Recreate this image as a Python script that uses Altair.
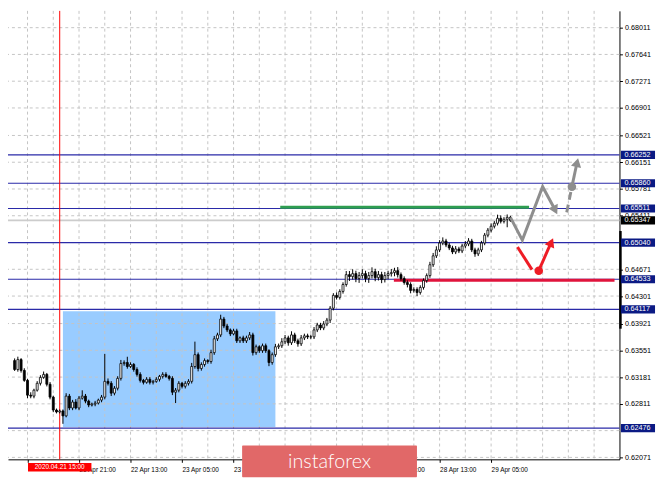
import altair as alt
import pandas as pd

# ---------------- data ----------------
START_HOUR = -4            # bar index in trading hours since 21 Apr 05:00
FIRST_OPEN = 0.63409
CLOSES = [
    0.63286, 0.63423, 0.63273, 0.63136,
    0.62931, 0.62918, 0.63000, 0.63095, 0.63177, 0.63218, 0.63082, 0.62904, 0.62726, 0.62699,
    0.62713, 0.62645, 0.62918, 0.62754, 0.62836, 0.62754, 0.62890, 0.62918, 0.62849, 0.62795,
    0.62808, 0.62822, 0.62863, 0.62904, 0.63122, 0.63095, 0.62959, 0.63027, 0.63163, 0.63368,
    0.63382, 0.63327, 0.63355, 0.63286, 0.63218, 0.63136, 0.63109, 0.63150, 0.63109, 0.63122,
    0.63150, 0.63191, 0.63218, 0.63191, 0.63163, 0.62972, 0.63000, 0.63095, 0.63054, 0.63095,
    0.63122, 0.63327, 0.63491, 0.63300, 0.63355, 0.63409, 0.63396, 0.63519, 0.63710, 0.63764,
    0.63983, 0.63887, 0.63833, 0.63778, 0.63819, 0.63682, 0.63723, 0.63682, 0.63723, 0.63764,
    0.63519, 0.63600, 0.63546, 0.63614, 0.63546, 0.63382, 0.63491, 0.63600, 0.63614, 0.63669,
    0.63723, 0.63655, 0.63764, 0.63682, 0.63641, 0.63723, 0.63751, 0.63737, 0.63737, 0.63833,
    0.63901, 0.63860, 0.63915, 0.63969, 0.64133, 0.64311, 0.64283, 0.64365, 0.64461, 0.64597,
    0.64570, 0.64611, 0.64543, 0.64584, 0.64611, 0.64543, 0.64584, 0.64638, 0.64556, 0.64597,
    0.64529, 0.64584, 0.64611, 0.64625, 0.64652, 0.64597, 0.64543, 0.64488, 0.64461, 0.64379,
    0.64392, 0.64351, 0.64420, 0.64515, 0.64584, 0.64734, 0.64857, 0.64939, 0.65034, 0.65062,
    0.65007, 0.64966, 0.64911, 0.64952, 0.64925, 0.64993, 0.65021, 0.65062, 0.64939, 0.64884,
    0.64939, 0.65034, 0.65143, 0.65212, 0.65266, 0.65307, 0.65376, 0.65335, 0.65362, 0.65389,
    0.65348,
]
UPPER_WICK_PIPS = [
    3, 4, 2, 3,
    2, 4, 2, 3, 3, 4, 2, 3, 2, 2,
    2, 2, 4, 3, 3, 4, 3, 8, 3, 2,
    2, 3, 2, 3, 38, 4, 3, 3, 3, 5,
    3, 8, 3, 2, 3, 3, 2, 3, 3, 2,
    3, 2, 3, 3, 2, 3, 3, 3, 2, 3,
    3, 5, 18, 3, 3, 3, 2, 4, 4, 3,
    6, 3, 3, 2, 3, 3, 2, 3, 3, 4,
    3, 3, 2, 3, 3, 2, 3, 4, 3, 5,
    4, 3, 5, 3, 3, 4, 3, 3, 3, 4,
    3, 3, 4, 3, 3, 3, 4, 3, 3, 5,
    5, 6, 4, 5, 6, 4, 5, 6, 4, 5,
    4, 5, 4, 5, 4, 5, 3, 3, 3, 3,
    3, 3, 3, 3, 3, 4, 4, 5, 4, 5,
    3, 3, 3, 4, 3, 3, 4, 4, 3, 3,
    3, 3, 3, 3, 4, 3, 5, 4, 3, 4,
    2,
]
LOWER_WICK_PIPS = [
    2, 3, 3, 2,
    4, 3, 3, 2, 3, 2, 3, 3, 3, 2,
    2, 11, 2, 3, 3, 2, 3, 2, 3, 3,
    2, 3, 2, 3, 3, 3, 4, 3, 3, 3,
    3, 3, 2, 3, 3, 3, 3, 2, 3, 3,
    2, 3, 3, 2, 3, 4, 15, 3, 3, 3,
    3, 3, 3, 4, 3, 3, 3, 3, 3, 3,
    3, 3, 3, 3, 2, 3, 3, 3, 3, 3,
    4, 3, 3, 3, 3, 5, 3, 3, 3, 3,
    3, 4, 3, 3, 4, 3, 3, 3, 3, 3,
    3, 3, 3, 3, 4, 3, 3, 3, 3, 3,
    6, 4, 5, 6, 4, 5, 6, 4, 5, 4,
    5, 4, 5, 4, 5, 4, 3, 3, 4, 4,
    3, 5, 3, 3, 3, 3, 3, 3, 3, 3,
    3, 3, 3, 3, 3, 3, 3, 3, 3, 4,
    3, 3, 3, 3, 3, 3, 3, 3, 3, 11,
    2,
]
PIP = 0.0001

# horizontal grid lines sit at every price-scale step
Y_GRID = [0.68011, 0.67641, 0.67271, 0.66901, 0.66521, 0.66151, 0.65781, 0.65411,
          0.65041, 0.64671, 0.64301, 0.63921, 0.63551, 0.63181, 0.62811, 0.62441, 0.62071]
# price labels that are not completely hidden behind the level tags
Y_LABELS = [0.68011, 0.67641, 0.67271, 0.66901, 0.66521, 0.66151, 0.65781, 0.65411,
            0.64671, 0.64301, 0.63921, 0.63551, 0.63181, 0.62811, 0.62071]
X_TICKS = [0, 16, 32, 48, 64, 80, 96, 112, 128, 144]
# '' = label completely covered (cursor tag / watermark) in the reference
X_TICK_LABELS = ["", "21 Apr 21:00", "22 Apr 13:00", "23 Apr 05:00", "23 Apr 21:00",
                 "", "", "27 Apr 21:00", "28 Apr 13:00", "29 Apr 05:00"]
X_GRID = [0, 8, 16, 24, 32, 40, 48, 56, 64, 72, 80, 88, 96, 104, 112, 120, 128, 136, 144,
          152, 160, 168, 176]

LEVELS = [0.66252, 0.65860, 0.65511, 0.65040, 0.64533, 0.64117, 0.62476]
CURRENT_PRICE = 0.65347
CURSOR_HOUR = 10
CURSOR_LABEL = "2020.04.21 15:00"

ZONE_HOURS = [11, 77]
ZONE_PRICES = [0.6409, 0.6249]

GREEN_SEG_HOURS = [78.5, 155.8]
GREEN_SEG_PRICE = 0.65530
RED_SEG_HOURS = [113.8, 182.34]
RED_SEG_PRICE = 0.64520

GRAY_PATH_H = [150.0, 153.7, 160.0, 163.7]
GRAY_PATH_P = [0.65389, 0.65075, 0.65813, 0.65507]
GRAY_DASH_H = [167.5, 169.1]
GRAY_DASH_P = [0.65458, 0.65813]
GRAY_UP_H = [169.1, 170.6]
GRAY_UP_P = [0.65813, 0.66127]
RED_DOWN_H = [152.2, 156.7]
RED_DOWN_P = [0.64980, 0.64666]
RED_UP_H = [158.8, 162.5]
RED_UP_P = [0.64652, 0.65026]
# arrow heads: hour, price, direction (degrees clockwise from up)
GRAY_HEADS_H = [163.7, 170.6]
GRAY_HEADS_P = [0.65507, 0.66127]
GRAY_HEADS_ANGLE = [153, 13]
RED_HEAD_H = [162.5]
RED_HEAD_P = [0.65026]
RED_HEAD_ANGLE = [24]
GRAY_DOT = (169.1, 0.65813)
RED_DOT = (158.8, 0.64652)
EDGE_BAR_PRICES = [0.6520, 0.6385]

# ---------------- tables ----------------
hours = list(range(START_HOUR, START_HOUR + len(CLOSES)))
opens = [FIRST_OPEN] + CLOSES[:-1]
highs = [max(o, c) + u * PIP for o, c, u in zip(opens, CLOSES, UPPER_WICK_PIPS)]
lows = [min(o, c) - l * PIP for o, c, l in zip(opens, CLOSES, LOWER_WICK_PIPS)]
candles = pd.DataFrame({"h": hours, "open": opens, "close": CLOSES, "high": highs, "low": lows})

W, H = 619, 454
XD = [-4.528, 182.34]
YD = [0.62044, 0.68243]
xs = alt.Scale(domain=XD, nice=False, zero=False)
ys = alt.Scale(domain=YD, nice=False, zero=False)

FONT = "Liberation Sans"
NAVY = "#2a2aa8"

label_expr = "[" + ",".join("'%s'" % s for s in X_TICK_LABELS) + "][round(datum.value / 16)]"
x_axis = alt.Axis(values=X_TICKS, labelExpr=label_expr, grid=False, domainColor="black",
                  domainWidth=1, tickColor="black", tickSize=3, labelAlign="left",
                  labelBaseline="top", labelPadding=4, labelFont=FONT, labelFontSize=6.5,
                  labelColor="black", labelFlush=False, labelOverlap=False)
y_axis = alt.Axis(values=Y_LABELS, format=".5f", orient="right", grid=False, domainColor="black",
                  domainWidth=1, tickColor="black", tickSize=3, labelPadding=2,
                  labelFont=FONT, labelFontSize=7.3, labelColor="black", labelFlush=False,
                  labelOverlap=False, labelBaseline="middle")


def X(f):
    return alt.X(f"{f}:Q", scale=xs, axis=x_axis, title=None)


def Y(f):
    return alt.Y(f"{f}:Q", scale=ys, axis=y_axis, title=None)


zone = alt.Chart(pd.DataFrame({"h0": [ZONE_HOURS[0]], "h1": [ZONE_HOURS[1]],
                               "p0": [ZONE_PRICES[0]], "p1": [ZONE_PRICES[1]]})).mark_rect(
    color="#99ccff").encode(x=X("h0"), x2="h1", y=Y("p0"), y2="p1")

hgrid = alt.Chart(pd.DataFrame({"p": Y_GRID})).mark_rule(
    color="#c4c4c4", strokeDash=[3, 3], strokeWidth=1).encode(y=Y("p"))
vgrid = alt.Chart(pd.DataFrame({"h": X_GRID})).mark_rule(
    color="#c4c4c4", strokeDash=[3, 3], strokeWidth=1).encode(x=X("h"))

levels = alt.Chart(pd.DataFrame({"p": LEVELS})).mark_rule(
    color=NAVY, strokeWidth=1.2).encode(y=Y("p"))
cur_line = alt.Chart(pd.DataFrame({"p": [CURRENT_PRICE]})).mark_rule(
    color="#cccccc", strokeWidth=1.6).encode(y=Y("p"))
cursor = alt.Chart(pd.DataFrame({"h": [CURSOR_HOUR]})).mark_rule(
    color="#ff0000", strokeWidth=1).encode(x=X("h"))

green = alt.Chart(pd.DataFrame({"h0": [GREEN_SEG_HOURS[0]], "h1": [GREEN_SEG_HOURS[1]],
                                "p": [GREEN_SEG_PRICE]})).mark_rule(
    color="#2e9e50", strokeWidth=3).encode(x=X("h0"), x2="h1", y=Y("p"))
redseg = alt.Chart(pd.DataFrame({"h0": [RED_SEG_HOURS[0]], "h1": [RED_SEG_HOURS[1]],
                                 "p": [RED_SEG_PRICE]})).mark_rule(
    color="#e0143c", strokeWidth=3.2).encode(x=X("h0"), x2="h1", y=Y("p"))

wicks = alt.Chart(candles).mark_rule(color="black", strokeWidth=1).encode(
    x=X("h"), y=Y("low"), y2="high")
bodies = alt.Chart(candles).mark_bar(size=2, stroke="black", strokeWidth=0.8).encode(
    x=X("h"), y=Y("open"), y2="close",
    fill=alt.when("datum.close > datum.open").then(alt.value("white")).otherwise(alt.value("black")))

gray_path = alt.Chart(pd.DataFrame({"h": GRAY_PATH_H, "p": GRAY_PATH_P})).mark_line(
    color="#8e8e8e", strokeWidth=3, strokeJoin="miter").encode(x=X("h"), y=Y("p"))
gray_dash = alt.Chart(pd.DataFrame({"h": GRAY_DASH_H, "p": GRAY_DASH_P})).mark_line(
    color="#8e8e8e", strokeWidth=3, strokeDash=[8, 5]).encode(x=X("h"), y=Y("p"))
gray_up = alt.Chart(pd.DataFrame({"h": GRAY_UP_H, "p": GRAY_UP_P})).mark_line(
    color="#8e8e8e", strokeWidth=3).encode(x=X("h"), y=Y("p"))
gray_heads = alt.Chart(pd.DataFrame({"h": GRAY_HEADS_H, "p": GRAY_HEADS_P,
                                     "a": GRAY_HEADS_ANGLE})).mark_point(
    shape="triangle", filled=True, size=110, color="#8e8e8e", opacity=1).encode(
    x=X("h"), y=Y("p"), angle=alt.Angle("a:Q", scale=None))
gray_dot = alt.Chart(pd.DataFrame({"h": [GRAY_DOT[0]], "p": [GRAY_DOT[1]]})).mark_point(
    shape="circle", filled=True, size=75, color="#8e8e8e", opacity=1).encode(x=X("h"), y=Y("p"))

red_down = alt.Chart(pd.DataFrame({"h": RED_DOWN_H, "p": RED_DOWN_P})).mark_line(
    color="#ee1c25", strokeWidth=3).encode(x=X("h"), y=Y("p"))
red_up = alt.Chart(pd.DataFrame({"h": RED_UP_H, "p": RED_UP_P})).mark_line(
    color="#ee1c25", strokeWidth=3).encode(x=X("h"), y=Y("p"))
red_head = alt.Chart(pd.DataFrame({"h": RED_HEAD_H, "p": RED_HEAD_P, "a": RED_HEAD_ANGLE})).mark_point(
    shape="triangle", filled=True, size=110, color="#ee1c25", opacity=1).encode(
    x=X("h"), y=Y("p"), angle=alt.Angle("a:Q", scale=None))
red_dot = alt.Chart(pd.DataFrame({"h": [RED_DOT[0]], "p": [RED_DOT[1]]})).mark_point(
    shape="circle", filled=True, size=75, color="#ee1c25", opacity=1).encode(x=X("h"), y=Y("p"))

edge_bar = alt.Chart(pd.DataFrame({"p0": [EDGE_BAR_PRICES[0]], "p1": [EDGE_BAR_PRICES[1]]})).mark_rule(
    color="black", strokeWidth=2.5).encode(x=alt.value(W + 1), y=Y("p0"), y2="p1")

# price-scale tags
tags = pd.DataFrame({
    "p": LEVELS + [CURRENT_PRICE],
    "txt": ["%.5f" % v for v in LEVELS] + ["%.5f" % CURRENT_PRICE],
    "kind": ["level"] * len(LEVELS) + ["current"],
})
tag_box = alt.Chart(tags).transform_calculate(
    top="datum.p + 0.00056", bot="datum.p - 0.00056").mark_rect().encode(
    x=alt.value(W + 1.5), x2=alt.value(W + 36),
    y=Y("top"), y2="bot",
    fill=alt.when("datum.kind == 'current'").then(alt.value("#000000")).otherwise(alt.value("#0b1a84")))
tag_txt = alt.Chart(tags).mark_text(align="left", baseline="middle", font=FONT, fontSize=7.3,
                                    color="white").encode(
    x=alt.value(W + 5), y=Y("p"), text="txt:N")

# cursor time tag on the time axis
ctag = pd.DataFrame({"h": [CURSOR_HOUR], "txt": [CURSOR_LABEL]})
ctag_box = alt.Chart(ctag).transform_calculate(h0="datum.h - 9.85", h1="datum.h + 9.85").mark_rect(
    color="#ff0000").encode(x=X("h0"), x2="h1", y=alt.value(H + 3.7), y2=alt.value(H + 12.3))
ctag_txt = alt.Chart(ctag).mark_text(font=FONT, fontSize=6.5, color="white", baseline="middle").encode(
    x=X("h"), y=alt.value(H + 8.2), text="txt:N")

# watermark
wm = pd.DataFrame({"txt": ["instaforex"]})
wm_box = alt.Chart(wm).mark_rect(color="#e16868", cornerRadius=1).encode(
    x=alt.value(237), x2=alt.value(414), y=alt.value(H - 14), y2=alt.value(H + 18))
wm_txt = alt.Chart(wm).mark_text(font="Lato", fontSize=20, fontWeight=300, color="white",
                                 baseline="middle", align="center").encode(
    x=alt.value(325.5), y=alt.value(H + 2.5), text="txt:N")

chart = alt.layer(
    zone, hgrid, vgrid, levels, cur_line, cursor, green, redseg, wicks, bodies,
    gray_path, gray_dash, gray_up, gray_heads, gray_dot, red_down, red_up, red_head, red_dot,
    edge_bar, tag_box, tag_txt, ctag_box, ctag_txt, wm_box, wm_txt,
).properties(
    width=W, height=H,
    autosize=alt.AutoSizeParams(type="none"),
    padding={"left": 0, "top": 0, "right": 38, "bottom": 18},
    background="white",
).configure_view(strokeWidth=0)

chart.save("out.html", embed_options={"renderer": "svg", "actions": False})
